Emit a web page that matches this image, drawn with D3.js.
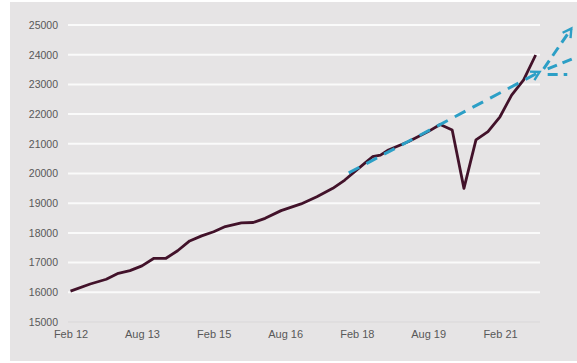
<!DOCTYPE html>
<html>
<head>
<meta charset="utf-8">
<script src="https://cdn.jsdelivr.net/npm/d3@7"></script>
<style>
  body { margin: 0; background: #fff; }
  text { font-family: "Liberation Sans", Arial, sans-serif; }
</style>
</head>
<body>
<div id="chart"></div>
<script>
// index values
var dates = ["2012-02","2012-07","2012-11","2013-02","2013-05","2013-08","2013-11","2014-02",
  "2014-05","2014-08","2014-11","2015-02","2015-05","2015-09","2015-12","2016-03","2016-07",
  "2016-12","2017-04","2017-08","2017-11","2018-04","2018-06","2018-08","2018-10","2019-03",
  "2019-08","2019-11","2020-02","2020-05","2020-08","2020-11","2021-02","2021-05","2021-08","2021-11"];
var values = [16040,16280,16440,16640,16730,16890,17145,17145,
  17400,17730,17900,18040,18215,18340,18350,18490,18750,
  18975,19220,19500,19780,20340,20565,20620,20790,21070,
  21410,21650,21465,19500,21130,21410,21910,22640,23150,23990];

// dashed trend and its projections
var trendDates = ["2017-12","2021-12"];
var trendValues = [20020,23420];
var branchDates = [["2022-01","2022-08"],["2022-02","2022-09"],["2022-02","2022-07"]];
var branchValues = [[23520,24880],[23520,23900],[23330,23330]];

var tickDates = ["2012-02","2013-08","2015-02","2016-08","2018-02","2019-08","2021-02"];
var tickLabels = ["Feb 12","Aug 13","Feb 15","Aug 16","Feb 18","Aug 19","Feb 21"];
var yTicks = [15000,16000,17000,18000,19000,20000,21000,22000,23000,24000,25000];

var W = 577, H = 363;
var parse = d3.timeParse("%Y-%m");

var svg = d3.select("#chart").append("svg")
  .attr("width", W).attr("height", H);

svg.append("rect")
  .attr("x", 10).attr("y", 2)
  .attr("width", W - 10).attr("height", 359)
  .attr("fill", "#e6e4e5");

var x = d3.scaleTime()
  .domain([parse("2012-02"), parse("2021-02")])
  .range([70.5, 500]);
var y = d3.scaleLinear()
  .domain([15000, 25000])
  .range([322, 25]);

// grid + y labels
var yAxis = d3.axisLeft(y)
  .tickValues(yTicks)
  .tickSize(0)
  .tickPadding(0)
  .tickFormat(d3.format("d"));
var gy = svg.append("g").attr("transform", "translate(58,0)").call(yAxis);
gy.select(".domain").remove();
gy.selectAll("text")
  .attr("font-size", 10.5)
  .attr("fill", "#585858")
  .attr("font-family", "Liberation Sans, Arial, sans-serif");

svg.append("g").selectAll("line")
  .data(yTicks)
  .join("line")
  .attr("x1", 68).attr("x2", 540)
  .attr("y1", function (d) { return y(d); })
  .attr("y2", function (d) { return y(d); })
  .attr("stroke", function (d) { return d === 15000 ? "#d9d7d8" : "#fafafa"; })
  .attr("stroke-width", function (d) { return d === 15000 ? 1 : 2; });

// x labels
var xAxis = d3.axisBottom(x)
  .tickValues(tickDates.map(parse))
  .tickSize(0)
  .tickPadding(0)
  .tickFormat(function (d, i) { return tickLabels[i]; });
var gx = svg.append("g").attr("transform", "translate(0,330)").call(xAxis);
gx.select(".domain").remove();
gx.selectAll("text")
  .attr("font-size", 11)
  .attr("fill", "#585858")
  .attr("font-family", "Liberation Sans, Arial, sans-serif");

// main series
var line = d3.line()
  .x(function (d) { return x(d[0]); })
  .y(function (d) { return y(d[1]); });

var series = dates.map(function (d, i) { return [parse(d), values[i]]; });
svg.append("path")
  .datum(series)
  .attr("d", line)
  .attr("fill", "none")
  .attr("stroke", "#42122a")
  .attr("stroke-width", 2.8)
  .attr("stroke-linejoin", "round");

// trend arrows
var blue = "#2c9fc6";
var defs = svg.append("defs");
defs.append("marker")
  .attr("id", "arr")
  .attr("viewBox", "0 0 10 10")
  .attr("refX", 8).attr("refY", 5)
  .attr("markerWidth", 4).attr("markerHeight", 4)
  .attr("orient", "auto")
  .append("path")
  .attr("d", "M1,1 L8,5 L1,9")
  .attr("fill", "none")
  .attr("stroke", blue)
  .attr("stroke-width", 2);

var trend = trendDates.map(function (d, i) { return [parse(d), trendValues[i]]; });
svg.append("path")
  .datum(trend)
  .attr("d", line)
  .attr("fill", "none")
  .attr("stroke", blue)
  .attr("stroke-width", 3)
  .attr("stroke-dasharray", "12,8")
  .attr("marker-end", "url(#arr)");

branchDates.forEach(function (bd, k) {
  var pts = bd.map(function (d, i) { return [parse(d), branchValues[k][i]]; });
  svg.append("path")
    .datum(pts)
    .attr("d", line)
    .attr("fill", "none")
    .attr("stroke", blue)
    .attr("stroke-width", 3)
    .attr("stroke-dasharray", "10,6")
    .attr("marker-end", k === 0 ? "url(#arr)" : null);
});
</script>
</body>
</html>
